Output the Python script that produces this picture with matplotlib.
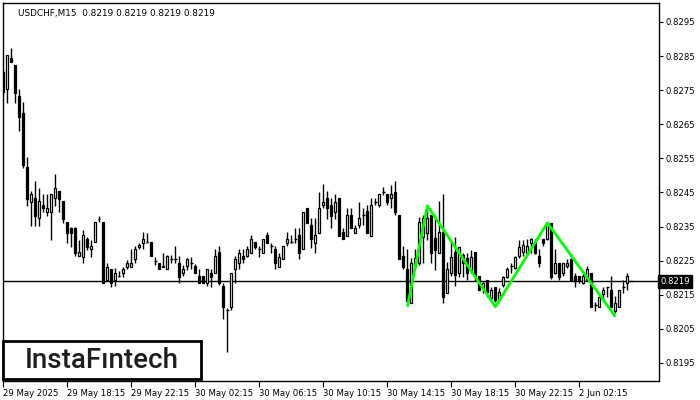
import matplotlib
matplotlib.use('Agg')
import matplotlib.pyplot as plt
from matplotlib.patches import Rectangle

# USDCHF M15 candles (open, high, low, close)
opens = [
    .82803, .82753, .82844, .82824, .82733, .82682, .82524, .82423, .82433, .82374,
    .82413, .82394, .82394, .82433, .82454, .82425, .82363, .82345, .82345, .82264,
    .82262, .82313, .82283, .82304, .82371, .82364, .82193, .82225, .82193, .82205,
    .82213, .82232, .82232, .82254, .82291, .82303, .82305, .82305, .82249, .82244,
    .82232, .82226, .82254, .82254, .82244, .82213, .82234, .82244, .82234, .82205,
    .82205, .82184, .82215, .82213, .82276, .82176, .82105, .82113, .82225, .82242,
    .82264, .82264, .82273, .82306, .82283, .82273, .82325, .82293, .82283, .82232,
    .82254, .82303, .82305, .82313, .82325, .82283, .82404, .82355, .82303, .82332,
    .82413, .82433, .82413, .82394, .82433, .82335, .82323, .82384, .82332, .82355,
    .82384, .82396, .82323, .82423, .82413, .82452, .82446, .82433, .82452, .82384,
    .82264, .82225, .82125, .82234, .82242, .82320, .82330, .82384, .82316, .82273,
    .82335, .82155, .82213, .82276, .82213, .82267, .82257, .82223, .82276, .82205,
    .82170, .82193, .82140, .82174, .82135, .82179, .82201, .82234, .82228, .82264,
    .82276, .82272, .82301, .82301, .82264, .82313, .82313, .82360, .82213, .82244,
    .82213, .82234, .82254, .82205, .82205, .82184, .82193, .82213, .82120, .82113,
    .82152, .82174, .82164, .82103, .82113, .82174, .82184, .82190,
]
highs = [
    .82809, .82853, .82873, .82824, .82753, .82715, .82553, .82455, .82484, .82462,
    .82446, .82446, .82446, .82503, .82454, .82425, .82363, .82350, .82350, .82311,
    .82340, .82319, .82311, .82363, .82382, .82364, .82242, .82225, .82228, .82220,
    .82232, .82252, .82283, .82293, .82303, .82333, .82330, .82305, .82262, .82244,
    .82273, .82267, .82267, .82293, .82264, .82237, .82257, .82262, .82240, .82225,
    .82205, .82225, .82225, .82283, .82293, .82185, .82110, .82213, .82264, .82283,
    .82283, .82293, .82325, .82306, .82293, .82313, .82335, .82303, .82293, .82273,
    .82293, .82335, .82325, .82345, .82345, .82394, .82404, .82374, .82374, .82452,
    .82475, .82455, .82433, .82446, .82433, .82345, .82404, .82404, .82355, .82423,
    .82404, .82413, .82433, .82433, .82446, .82465, .82446, .82472, .82485, .82384,
    .82293, .82283, .82257, .82283, .82379, .82384, .82413, .82384, .82384, .82426,
    .82446, .82247, .82311, .82320, .82291, .82273, .82272, .82281, .82276, .82205,
    .82188, .82193, .82174, .82174, .82169, .82205, .82232, .82244, .82264, .82311,
    .82311, .82313, .82317, .82313, .82283, .82313, .82361, .82360, .82283, .82244,
    .82244, .82254, .82254, .82215, .82205, .82215, .82234, .82213, .82130, .82146,
    .82174, .82174, .82205, .82146, .82164, .82193, .82215, .82190,
]
lows = [
    .82736, .82713, .82834, .82713, .82631, .82523, .82411, .82353, .82353, .82353,
    .82394, .82381, .82311, .82411, .82392, .82360, .82303, .82291, .82264, .82264,
    .82242, .82281, .82262, .82304, .82363, .82184, .82191, .82174, .82176, .82202,
    .82203, .82226, .82232, .82242, .82283, .82283, .82302, .82264, .82237, .82225,
    .82232, .82225, .82242, .82242, .82184, .82205, .82223, .82225, .82213, .82184,
    .82184, .82176, .82174, .82213, .82179, .82078, .81983, .82105, .82184, .82225,
    .82242, .82262, .82273, .82283, .82262, .82273, .82303, .82273, .82225, .82232,
    .82254, .82293, .82303, .82303, .82254, .82283, .82361, .82286, .82273, .82330,
    .82404, .82371, .82345, .82371, .82323, .82313, .82323, .82345, .82332, .82345,
    .82355, .82332, .82323, .82413, .82408, .82443, .82413, .82404, .82384, .82254,
    .82225, .82130, .82125, .82225, .82237, .82242, .82311, .82242, .82223, .82273,
    .82125, .82155, .82205, .82176, .82201, .82203, .82193, .82213, .82191, .82164,
    .82155, .82144, .82130, .82130, .82135, .82174, .82198, .82215, .82225, .82258,
    .82264, .82270, .82272, .82270, .82232, .82293, .82311, .82195, .82211, .82193,
    .82205, .82230, .82191, .82174, .82185, .82182, .82191, .82113, .82103, .82113,
    .82135, .82143, .82113, .82097, .82113, .82154, .82164, .82190,
]
closes = [
    .82745, .82853, .82834, .82743, .82672, .82531, .82431, .82446, .82382, .82424,
    .82404, .82404, .82446, .82462, .82431, .82372, .82332, .82332, .82273, .82275,
    .82324, .82291, .82293, .82363, .82372, .82184, .82232, .82184, .82215, .82206,
    .82226, .82244, .82244, .82283, .82296, .82313, .82306, .82264, .82249, .82225,
    .82233, .82264, .82254, .82254, .82203, .82225, .82254, .82244, .82213, .82184,
    .82184, .82225, .82203, .82264, .82184, .82113, .82105, .82213, .82254, .82273,
    .82254, .82283, .82313, .82291, .82283, .82313, .82303, .82293, .82242, .82262,
    .82293, .82313, .82305, .82313, .82273, .82394, .82361, .82313, .82325, .82404,
    .82423, .82404, .82381, .82423, .82323, .82313, .82384, .82345, .82345, .82374,
    .82384, .82332, .82413, .82423, .82446, .82452, .82423, .82446, .82394, .82254,
    .82232, .82133, .82242, .82258, .82364, .82374, .82374, .82273, .82281, .82335,
    .82143, .82226, .82262, .82208, .82291, .82242, .82213, .82262, .82205, .82164,
    .82185, .82159, .82164, .82135, .82159, .82203, .82225, .82234, .82262, .82290,
    .82296, .82293, .82313, .82272, .82242, .82303, .82360, .82203, .82244, .82203,
    .82244, .82244, .82193, .82193, .82193, .82205, .82225, .82113, .82120, .82143,
    .82164, .82174, .82113, .82125, .82164, .82174, .82205, .82190,
]

# zigzag pattern drawn in green
pattern_bars = [101, 106, 123, 136, 153]
pattern_prices = [0.82115, 0.82411, 0.82115, 0.82361, 0.82086]

last_price = 0.8219
time_ticks = [0, 16, 32, 48, 64, 80, 96, 112, 128, 144]
time_labels = ['29 May 2025', '29 May 18:15', '29 May 22:15', '30 May 02:15',
               '30 May 06:15', '30 May 10:15', '30 May 14:15', '30 May 18:15',
               '30 May 22:15', '2 Jun 02:15']
price_ticks = [0.8195, 0.8205, 0.8215, 0.8225, 0.8235, 0.8245,
               0.8255, 0.8265, 0.8275, 0.8285, 0.8295]

fs = 6.1

fig = plt.figure(figsize=(7, 4), dpi=100)
ax = fig.add_axes([3 / 700, 19 / 400, 656 / 700, 378 / 400])

idx = list(range(len(opens)))
ax.vlines(idx, lows, highs, color='black', lw=1, zorder=2)
for i in idx:
    o, c = opens[i], closes[i]
    if c > o:
        ax.bar(i, c - o, bottom=o, width=0.55, color='white',
               edgecolor='black', lw=0.9, zorder=3)
    elif c < o:
        ax.bar(i, o - c, bottom=c, width=0.55, color='black',
               edgecolor='black', lw=0.9, zorder=3)
    else:
        ax.hlines(o, i - 0.4, i + 0.4, color='black', lw=1, zorder=3)

ax.axhline(last_price, color='black', lw=1, zorder=1)
ax.plot(pattern_bars, pattern_prices, color='#00ff00', lw=2, zorder=4,
        solid_capstyle='butt')

ax.set_xlim(-0.075, 163.9)
ax.set_ylim(0.818972, 0.830057)

ax.set_xticks(time_ticks)
ax.set_xticklabels(time_labels, ha='left', fontsize=fs)
ax.set_yticks(price_ticks)
ax.set_yticklabels(['%.4f' % p for p in price_ticks], fontsize=fs)
ax.yaxis.tick_right()
ax.tick_params(axis='y', direction='out', length=3, width=0.8, pad=2)
ax.tick_params(axis='x', direction='out', length=4, width=0.8, pad=1.5)
for s in ax.spines.values():
    s.set_linewidth(1)

# current price tag on the price scale
ax.text(1.002, last_price, '0.8219', transform=ax.get_yaxis_transform(),
        ha='left', va='center', fontsize=fs, color='white',
        bbox=dict(boxstyle='square,pad=0.25', fc='black', ec='black'))

ax.text(0.023, 0.983, 'USDCHF,M15  0.8219 0.8219 0.8219 0.8219',
        transform=ax.transAxes, ha='left', va='top', fontsize=6.4)

# logo box
fig.patches.append(Rectangle((3 / 700, 21 / 400), 198 / 700, 38 / 400,
                             transform=fig.transFigure, fc='white', ec='black',
                             lw=2, zorder=10))
fig.text(102 / 700, 40 / 400, 'InstaF\u0131ntech', ha='center', va='center',
         fontsize=20, family='Roboto', weight='medium', color='#1e1e1e',
         zorder=11)

fig.savefig('out.png', dpi=100)
